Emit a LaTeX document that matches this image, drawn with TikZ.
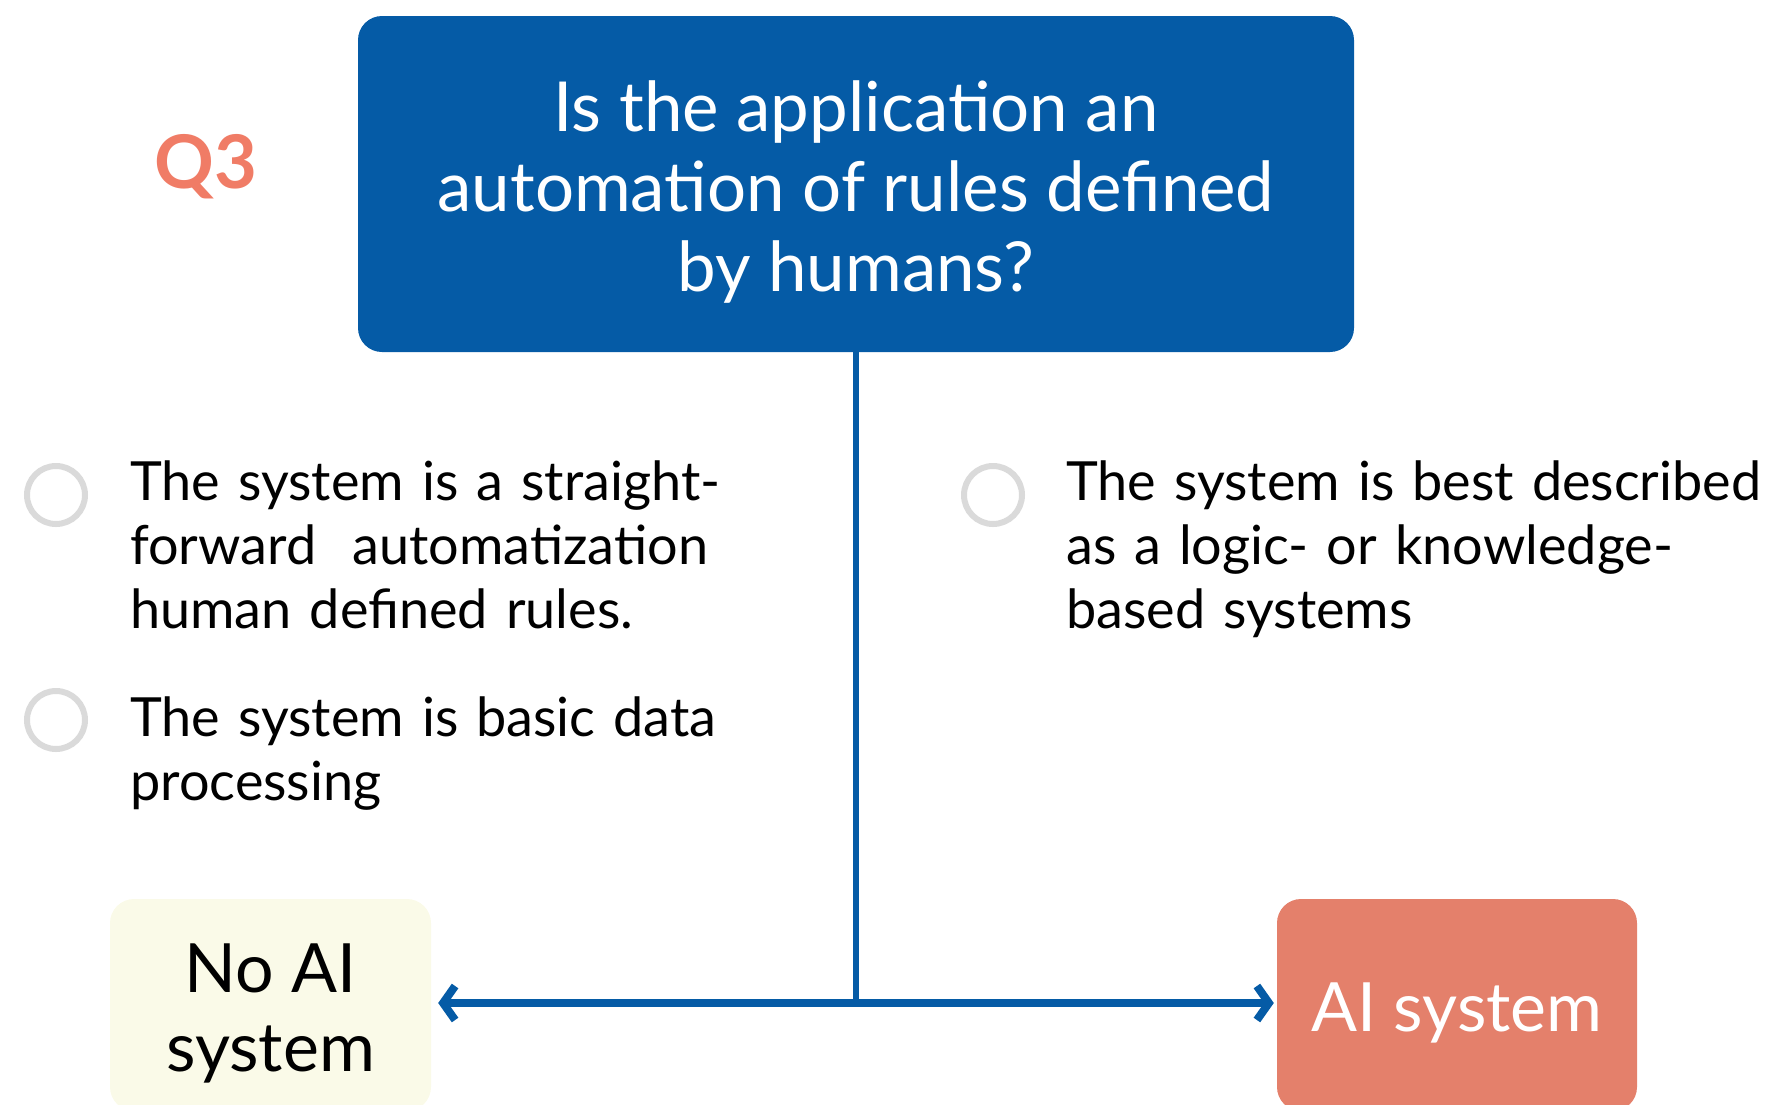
\documentclass[tikz,border=0pt]{standalone}
\usepackage{fontspec}
\setmainfont{Lato}
\usetikzlibrary{arrows.meta}
\definecolor{qblue}{HTML}{055BA6}
\definecolor{qsalmon}{HTML}{E4806B}
\definecolor{qcream}{HTML}{FAFAE8}
\definecolor{qlabel}{HTML}{F07C66}
\definecolor{qgray}{HTML}{DADADA}
\newcommand\toppad[1]{\rule{0pt}{#1}}
\tikzset{
  answer/.style={anchor=base west, inner sep=0pt, text width=#1, align=left,
    font=\fontsize{54}{64}\selectfont},
  choice/.style={draw=qgray, line width=6pt},
  outcome/.style={rounded corners=24pt, minimum width=#1, minimum height=212pt,
    align=center, font=\fontsize{68}{79}\selectfont}
}
\begin{document}
\begin{tikzpicture}[x=1pt,y=-1pt]
  \useasboundingbox (0,0) rectangle (1771,1104);
  % question box
  \node[fill=qblue, rounded corners=24pt, minimum width=996pt, minimum height=336pt,
        text=white, align=center, font=\fontsize{69}{80}\selectfont] (q) at (856,184)
        {\toppad{67pt}Is the application an\\automation of rules defined\\by humans?};
  \node[text=qlabel, font=\fontsize{74}{80}\bfseries\selectfont] (label) at (206,167) {Q3};
  % options
  \draw[choice] (56,495) circle[radius=29];
  \node[answer=680pt] (opt1) at (130,500)
        {The system is a straight-\\forward\ \ automatization\\human defined rules.};
  \draw[choice] (56,720) circle[radius=29];
  \node[answer=680pt] (opt2) at (130,736) {The system is basic data\\processing};
  \draw[choice] (993,495) circle[radius=29];
  \node[answer=720pt] (opt3) at (1066,500)
        {The system is best described\\as a logic- or knowledge-\\based systems};
  % outcomes
  \node[outcome=321pt, fill=qcream] (noai) at (270.5,1005) {\toppad{65pt}No AI\\system};
  \node[outcome=360pt, fill=qsalmon, text=white] (aisys) at (1457,1005) {\toppad{65pt}AI system};
  \coordinate (split) at (q.south |- 0,1003);
  \draw[qblue, line width=6pt] (q.south) -- (split);
  \draw[qblue, line width=8pt, shorten <=7pt, shorten >=3pt,
        {Straight Barb[length=12pt,width=34pt]}-{Straight Barb[length=12pt,width=34pt]}]
        (split -| noai.east) -- (split -| aisys.west);
\end{tikzpicture}
\end{document}
